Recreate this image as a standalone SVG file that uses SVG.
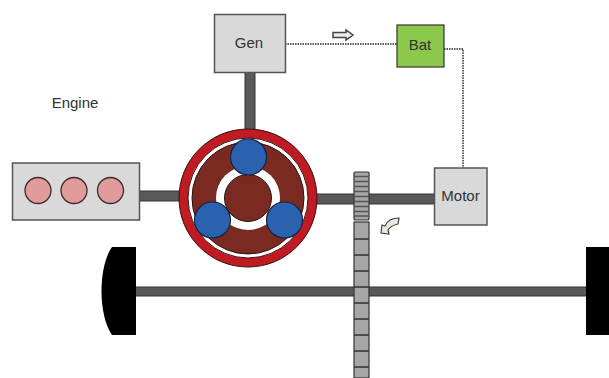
<svg xmlns="http://www.w3.org/2000/svg" width="609" height="378" viewBox="0 0 609 378">
<style>
text{font-family:"Liberation Sans",Arial,sans-serif;font-size:15px;fill:#333;text-anchor:middle}
.box{fill:#d9d9d9;stroke:#555;stroke-width:1.5}
.shaft{fill:#595959;stroke:#333;stroke-width:1}
.tooth{fill:#a6a6a6;stroke:#333;stroke-width:1.2}
.cyl{fill:#e29b9b;stroke:#3a2a2a;stroke-width:1.3}
.planet{fill:#2a62b0;stroke:#14233f;stroke-width:1.2}
.brown{fill:#7b2a22;stroke:#2a1512;stroke-width:1}
.wheel{fill:#000}
.wire{fill:none;stroke:#222;stroke-width:1.4;stroke-dasharray:1.5 1}
</style>
<rect width="609" height="378" fill="#fff"/>
<g id="connectors">
<rect class="shaft" x="245" y="72" width="10" height="58"/>
<rect class="shaft" x="138" y="191" width="42" height="10"/>
<rect class="shaft" x="316" y="194" width="119" height="10"/>
<rect class="shaft" x="135" y="287" width="452" height="9"/>
<path class="wire" d="M285 44H397"/>
<path class="wire" d="M444 49H463V168"/>
</g>
<g id="gear-rack">
<rect class="tooth" x="354" y="222" width="15" height="156"/>
<path fill="none" stroke="#333" stroke-width="1.3" d="M354 239H369M354 255H369M354 271H369M354 287H369M354 303H369M354 319H369M354 335H369M354 351H369M354 367H369"/>
<rect class="tooth" x="354" y="172" width="15" height="48" rx="1"/>
<path fill="none" stroke="#555" stroke-width="1.6" d="M354 176.500H369M354 181.500H369M354 186.500H369M354 191.500H369M354 196.500H369M354 201.500H369M354 206.500H369M354 211.500H369M354 216H369"/>
</g>
<g id="engine">
<rect class="box" x="12.500" y="163" width="127" height="57"/>
<circle class="cyl" cx="38" cy="190.500" r="13"/>
<circle class="cyl" cx="74" cy="190.500" r="13"/>
<circle class="cyl" cx="110.500" cy="190.500" r="13"/>
</g>
<g id="engine-label"><text x="75" y="108">Engine</text></g>
<g id="gen">
<rect class="box" x="214.500" y="14.500" width="71" height="58"/>
<text x="249" y="48">Gen</text>
</g>
<g id="bat">
<rect x="397" y="25" width="47" height="42" fill="#8cc84b" stroke="#333" stroke-width="1.2"/>
<text x="420" y="50">Bat</text>
</g>
<g id="motor">
<rect class="box" x="434.500" y="168" width="52.500" height="57"/>
<text x="460.500" y="200.500">Motor</text>
</g>
<g id="planetary-gear">
<circle cx="248" cy="198" r="64.500" fill="#fff" stroke="#c01a22" stroke-width="9"/>
<circle cx="248" cy="198" r="69" fill="none" stroke="#3a1010" stroke-width="1"/>
<circle cx="248" cy="198" r="60" fill="none" stroke="#3a1010" stroke-width="1"/>
<circle class="brown" cx="248" cy="198" r="56"/>
<circle cx="248" cy="198" r="32" fill="#fff"/>
<circle class="brown" cx="248" cy="198" r="23.500"/>
<circle class="planet" cx="248.500" cy="157" r="18"/>
<circle class="planet" cx="212.500" cy="220" r="18"/>
<circle class="planet" cx="284.500" cy="220" r="18"/>
</g>
<g id="wheel-left"><path class="wheel" d="M136 247V335H112C105 325 101.500 308 101.500 291C101.500 274 105 257 112 247Z"/></g>
<g id="wheel-right"><rect class="wheel" x="586" y="247" width="23" height="88"/></g>
<g id="flow-arrow"><path d="M333 32.500H346V30L353 35L346 40V37.500H333Z" fill="#eee" stroke="#444" stroke-width="1.5"/></g>
<g id="rotation-arrow"><path d="M399 218C392 218 387 221 385 226L382 225L381 233L389 234L388 230C390 227 393 225 398 224Z" fill="#e8e8dc" stroke="#444" stroke-width="1.2"/></g>
</svg>
